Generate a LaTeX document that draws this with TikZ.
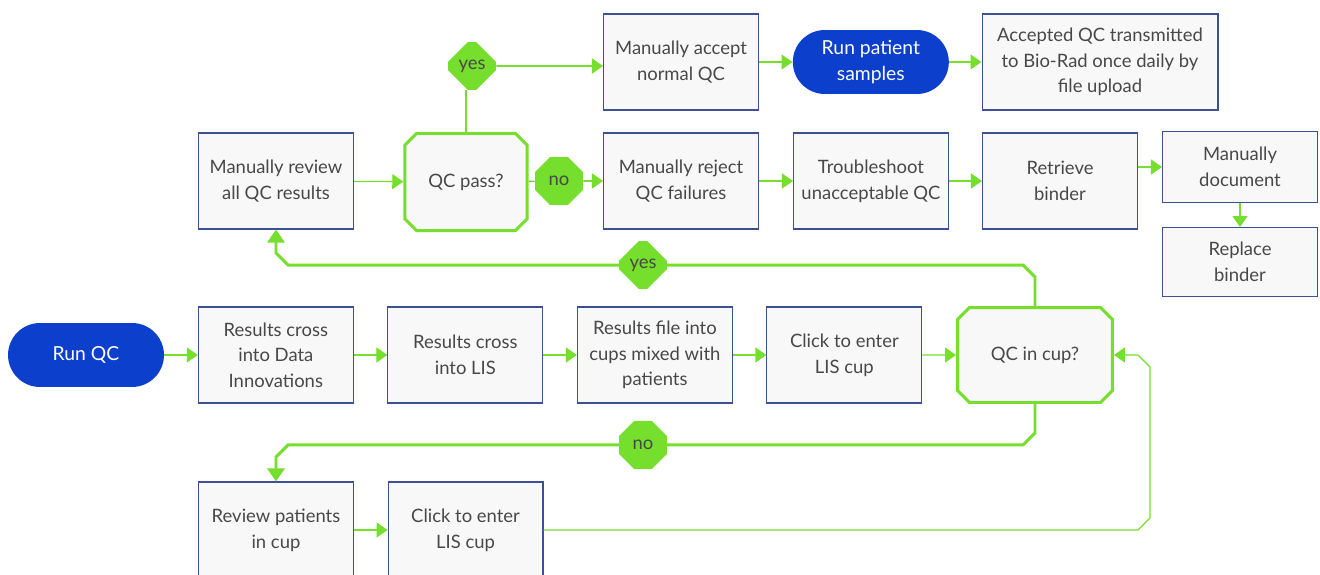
\documentclass[tikz,border=0pt]{standalone}
\usepackage{fontspec}
\setmainfont{Lato}
\usepackage{tikz}
\usetikzlibrary{positioning,shapes.misc,arrows.meta,calc}
\definecolor{qcgreen}{RGB}{118,222,44}
\definecolor{qcblue}{RGB}{11,63,204}
\definecolor{boxline}{RGB}{60,80,150}
\definecolor{boxfill}{RGB}{248,248,248}
\definecolor{textgray}{RGB}{72,72,72}

\begin{document}
\begin{tikzpicture}[x=0.02cm,y=-0.02cm,node distance=0.67cm,
    font=\fontsize{10.5}{14.6}\selectfont,
    taskbox/.style={rectangle,draw=boxline,line width=0.6pt,fill=boxfill,text=textgray,
        minimum width=3.1cm,minimum height=1.92cm,align=center,inner sep=2pt},
    pill/.style={rectangle,rounded corners=0.64cm,fill=qcblue,text=white,
        minimum width=3.12cm,minimum height=1.28cm,align=center,font=\fontsize{11}{15}\selectfont},
    decision/.style={chamfered rectangle,chamfered rectangle sep=0.12cm,draw=qcgreen,
        line width=1.7pt,fill=boxfill,text=textgray,minimum width=2.45cm,minimum height=1.95cm},
    answer/.style={chamfered rectangle,chamfered rectangle sep=0.28cm,fill=qcgreen,
        text=textgray,minimum width=0.96cm,minimum height=0.96cm,inner sep=0pt},
    flow/.style={draw=qcgreen,line width=0.7pt,-{Triangle[length=0.22cm,width=0.3cm]}},
    midflow/.style={draw=qcgreen,line width=1.1pt},
    backline/.style={draw=qcgreen,line width=1.7pt}]

    \useasboundingbox (0,0) rectangle (1320,575);

    % top row
    \node[taskbox] (accept) at (681,62) {Manually accept\\normal QC};
    \node[pill,right=of accept] (runpat) {Run patient\\samples};
    \node[taskbox,minimum width=4.72cm] (upload) at (1100,62) {Accepted QC transmitted\\to Bio-Rad once daily by\\file upload};

    % review row
    \node[taskbox] (review) at (276,181) {Manually review\\all QC results};
    \node[decision] (qcpass) at (466,182) {QC pass?};
    \node[answer] (yes1) at (472,66) {yes};
    \node[answer] (no1) at (559,181) {no};
    \node[taskbox] (reject) at (681,181) {Manually reject\\QC failures};
    \node[taskbox] (trouble) at (871,181) {Troubleshoot\\unacceptable QC};
    \node[taskbox] (retrieve) at (1060,181) {Retrieve\\binder};
    \node[taskbox,minimum height=1.42cm] (document) at (1240,167) {Manually\\document};
    \node[taskbox,minimum height=1.38cm,below=0.48cm of document] (replace) {Replace\\binder};

    % main row
    \node[pill] (runqc) at (86,355) {Run QC};
    \node[taskbox,right=of runqc] (cross1) {Results cross\\into Data\\Innovations};
    \node[taskbox,right=of cross1] (cross2) {Results cross\\into LIS};
    \node[taskbox,right=of cross2] (cupfile) {Results file into\\cups mixed with\\patients};
    \node[taskbox,right=of cupfile] (click1) {Click to enter\\LIS cup};
    \node[decision,minimum width=3.1cm,minimum height=1.9cm] (qcin) at (1035,355) {QC in cup?};

    % bottom row
    \node[taskbox] (patrev) at (276,530) {Review patients\\in cup};
    \node[taskbox,right=of patrev] (click2) {Click to enter\\LIS cup};

    % arrows
    \draw[midflow] (qcpass.north) -- (qcpass.north |- yes1.south);
    \draw[midflow,-{Triangle[length=0.22cm,width=0.3cm]}] (yes1) -- (yes1 -| accept.west);
    \draw[flow] (accept) -- (runpat);
    \draw[flow] (runpat) -- (upload);
    \draw[flow] (review) -- (qcpass);
    \draw[draw=qcgreen!70!gray,line width=0.7pt] (qcpass) -- (no1);
    \draw[midflow,-{Triangle[length=0.22cm,width=0.3cm]}] (no1) -- (reject);
    \draw[flow] (reject) -- (trouble);
    \draw[flow] (trouble) -- (retrieve);
    \draw[flow] (retrieve.east |- document) -- (document);
    \draw[flow] (document) -- (replace);

    \draw[flow] (runqc) -- (cross1);
    \draw[flow] (cross1) -- (cross2);
    \draw[flow] (cross2) -- (cupfile);
    \draw[flow] (cupfile) -- (click1);
    \draw[flow] (click1) -- (qcin);
    \draw[flow] (patrev) -- (click2);

    % loops back
    \draw[backline] (qcin.north) -- ++(0,-29) -- ++(-12,-12) -- ++(-380,0) coordinate (yesmid);
    \draw[backline,-{Triangle[length=0.26cm,width=0.34cm]}] (yesmid) -- ($(review.south |- yesmid)+(12,0)$) -- ++(-12,-12) -- (review.south);
    \draw[backline] (qcin.south) -- ++(0,29) -- ++(-12,12) -- ++(-380,0) coordinate (nomid);
    \draw[backline,-{Triangle[length=0.26cm,width=0.34cm]}] (nomid) -- ($(patrev.north |- nomid)+(12,0)$) -- ++(-12,12) -- (patrev.north);
    \draw[flow] (click2.east) -- ($(click2.east -| qcin.east)+(24,0)$) -- ++(12,-12) -- ($(qcin.east)+(36,12)$) -- ++(-12,-12) -- (qcin.east);

    \node[answer] (yes2) at (yesmid) {yes};
    \node[answer] (no2) at (nomid) {no};

\end{tikzpicture}
\end{document}
